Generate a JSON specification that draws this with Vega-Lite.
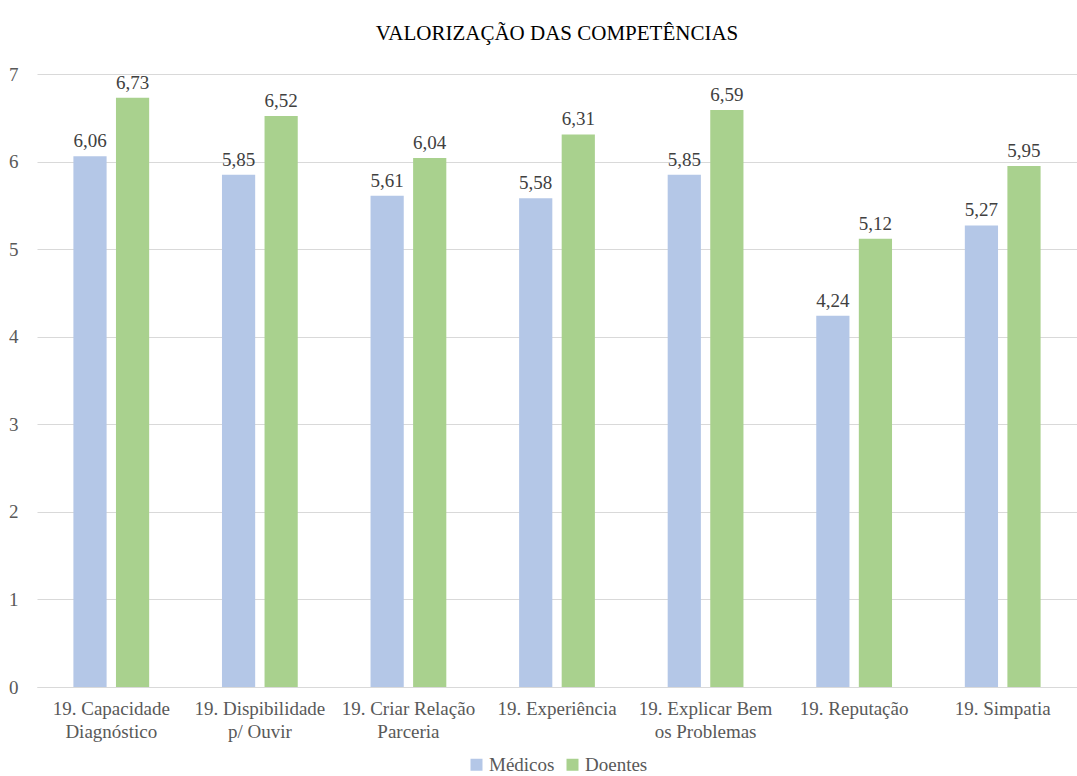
{
  "$schema": "https://vega.github.io/schema/vega-lite/v6.json",
  "autosize": {"type": "none"},
  "width": 1040,
  "height": 613,
  "padding": {"left": 37, "top": 74, "right": 0, "bottom": 89},
  "background": "white",
  "title": {"text": "VALORIZAÇÃO DAS COMPETÊNCIAS", "font": "Liberation Serif", "fontSize": 21, "fontWeight": "normal", "color": "#000000", "anchor": "middle", "offset": 21},
  "config": {
    "view": {"stroke": null},
    "locale": {"number": {"decimal": ",", "thousands": ".", "grouping": [3], "currency": ["€", ""]}},
    "font": "Liberation Serif"
  },
  "data": {"values": [
    {"cat": "19. Capacidade Diagnóstico", "serie": "Médicos", "valor": 6.06},
    {"cat": "19. Capacidade Diagnóstico", "serie": "Doentes", "valor": 6.73},
    {"cat": "19. Dispibilidade p/ Ouvir", "serie": "Médicos", "valor": 5.85},
    {"cat": "19. Dispibilidade p/ Ouvir", "serie": "Doentes", "valor": 6.52},
    {"cat": "19. Criar Relação Parceria", "serie": "Médicos", "valor": 5.61},
    {"cat": "19. Criar Relação Parceria", "serie": "Doentes", "valor": 6.04},
    {"cat": "19. Experiência", "serie": "Médicos", "valor": 5.58},
    {"cat": "19. Experiência", "serie": "Doentes", "valor": 6.31},
    {"cat": "19. Explicar Bem os Problemas", "serie": "Médicos", "valor": 5.85},
    {"cat": "19. Explicar Bem os Problemas", "serie": "Doentes", "valor": 6.59},
    {"cat": "19. Reputação", "serie": "Médicos", "valor": 4.24},
    {"cat": "19. Reputação", "serie": "Doentes", "valor": 5.12},
    {"cat": "19. Simpatia", "serie": "Médicos", "valor": 5.27},
    {"cat": "19. Simpatia", "serie": "Doentes", "valor": 5.95}
  ]},
  "encoding": {
    "x": {
      "field": "cat", "type": "nominal", "sort": null,
      "scale": {"paddingInner": 0.49, "paddingOuter": 0.245},
      "axis": {
        "title": null, "labelAngle": 0, "ticks": false, "domainColor": "#d9d9d9", "domainWidth": 1,
        "labelFont": "Liberation Serif", "labelFontSize": 19, "labelColor": "#595959",
        "labelPadding": 12, "labelLineHeight": 23, "labelBaseline": "top", "labelLimit": 200,
        "labelExpr": "datum.value == '19. Capacidade Diagnóstico' ? ['19. Capacidade', 'Diagnóstico'] : datum.value == '19. Dispibilidade p/ Ouvir' ? ['19. Dispibilidade', 'p/ Ouvir'] : datum.value == '19. Criar Relação Parceria' ? ['19. Criar Relação', 'Parceria'] : datum.value == '19. Explicar Bem os Problemas' ? ['19. Explicar Bem', 'os Problemas'] : datum.value"
      }
    },
    "xOffset": {"field": "serie", "type": "nominal", "sort": ["Médicos", "Doentes"], "scale": {"paddingInner": 0.22, "paddingOuter": 0}},
    "y": {
      "field": "valor", "type": "quantitative",
      "scale": {"domain": [0, 7], "nice": false},
      "axis": {
        "title": null, "values": [0, 1, 2, 3, 4, 5, 6, 7], "labelOverlap": false,
        "domain": false, "ticks": false, "gridColor": "#d9d9d9", "gridWidth": 1,
        "labelFont": "Liberation Serif", "labelFontSize": 19, "labelColor": "#595959", "labelPadding": 19
      }
    }
  },
  "layer": [
    {
      "mark": {"type": "bar"},
      "encoding": {
        "color": {
          "field": "serie", "type": "nominal",
          "scale": {"domain": ["Médicos", "Doentes"], "range": ["#B4C7E7", "#A9D18E"]},
          "legend": {
            "title": null, "orient": "none", "legendX": 430, "legendY": 681, "direction": "horizontal",
            "symbolType": "square", "symbolSize": 144, "symbolStrokeWidth": 0,
            "labelFont": "Liberation Serif", "labelFontSize": 19, "labelColor": "#595959",
            "labelOffset": 3, "columnPadding": 8
          }
        }
      }
    },
    {
      "mark": {"type": "text", "baseline": "bottom", "dy": -5, "font": "Liberation Serif", "fontSize": 19, "color": "#404040"},
      "encoding": {
        "text": {"field": "valor", "type": "quantitative", "format": ".2f"}
      }
    }
  ]
}
